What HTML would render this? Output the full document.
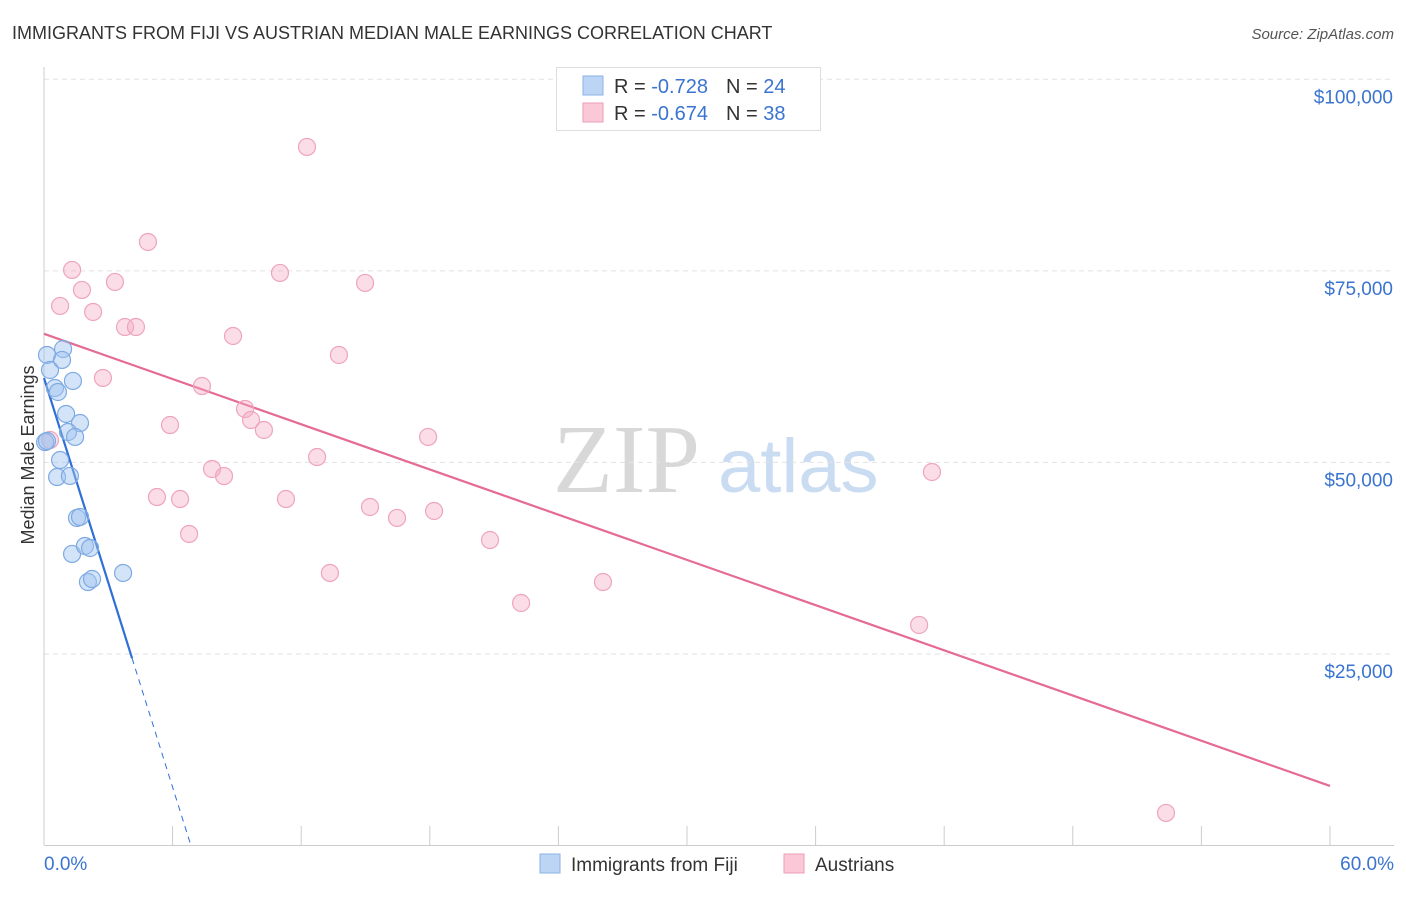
<!DOCTYPE html>
<html><head><meta charset="utf-8">
<style>
body{margin:0;background:#fff;font-family:"Liberation Sans",sans-serif;}
svg text{font-family:"Liberation Sans",sans-serif;}
</style></head>
<body>
<svg id="chart" width="1406" height="892" xmlns="http://www.w3.org/2000/svg">
<text x="12" y="39" font-size="18" fill="#333">IMMIGRANTS FROM FIJI VS AUSTRIAN MEDIAN MALE EARNINGS CORRELATION CHART</text>
<text x="1394" y="39" font-size="15" fill="#555" text-anchor="end" font-style="italic">Source: ZipAtlas.com</text>
<g>
<text x="553" y="492" font-size="98" fill="#d8d8d8" font-family="Liberation Serif" style="font-family:'Liberation Serif',serif">ZIP</text>
<text x="718" y="492" font-size="76" fill="#c9dcf2">atlas</text>
</g>
<g id="grid"></g>
<g id="axes"></g>
<g id="lines"></g>
<g id="points"></g>
<text transform="translate(34,455) rotate(-90)" font-size="18" fill="#333" text-anchor="middle">Median Male Earnings</text>
<g>
<rect x="556.5" y="67.5" width="264" height="63" fill="#fff" stroke="#ddd"/>
<rect x="583" y="76" width="20" height="19" fill="#bdd5f5" stroke="#8ab2e6"/>
<rect x="583" y="103" width="20" height="19" fill="#fac8d6" stroke="#ee9eb6"/>
<text x="614" y="93" font-size="20" fill="#333">R = <tspan fill="#3a74d0">-0.728</tspan><tspan dx="18">N = </tspan><tspan fill="#3a74d0">24</tspan></text>
<text x="614" y="120" font-size="20" fill="#333">R = <tspan fill="#3a74d0">-0.674</tspan><tspan dx="18">N = </tspan><tspan fill="#3a74d0">38</tspan></text>
</g>
<g>
<rect x="540" y="854" width="20" height="19" fill="#bdd5f5" stroke="#8ab2e6"/>
<text x="571" y="871" font-size="19" fill="#333">Immigrants from Fiji</text>
<rect x="784" y="854" width="20" height="19" fill="#fac8d6" stroke="#ee9eb6"/>
<text x="815" y="871" font-size="19" fill="#333">Austrians</text>
</g>
</svg>
<script>
const fijiX=[0.14,0.28,0.89,0.84,0.51,0.65,1.35,1.03,1.68,1.12,1.45,0.05,0.75,0.61,1.21,1.54,1.68,1.31,1.91,2.15,2.05,2.24,3.69,0.14];
const fijiY=[64020,62060,64800,63370,59710,59190,60630,56320,55140,53970,53320,52660,50310,48090,48230,42750,42880,38050,39090,38830,34390,34780,35570,52790];
const ausX=[12.27,4.85,1.31,11.01,3.31,14.98,1.77,0.75,2.29,3.78,4.29,8.82,13.76,2.75,7.37,9.38,9.66,10.26,5.88,17.92,0.28,12.74,7.84,8.40,41.43,5.27,6.35,11.29,15.21,18.20,16.47,6.77,20.81,13.34,26.08,22.26,40.83,52.35];
const ausY=[91170,78770,75120,74730,73550,73420,72510,70420,69630,67670,67670,66500,64020,61020,59970,56970,55530,54230,54880,53320,52920,50700,49140,48220,48750,45480,45220,45220,44180,43660,42750,40660,39870,35570,34390,31650,28780,4250];
const yTicks=[25000,50000,75000,100000];
const yTickLabels=["$25,000","$50,000","$75,000","$100,000"];
const xTickVals=[0,6,12,18,24,30,36,42,48,54,60];
const fijiTrend=[61010,-8900]; // intercept, slope per %
const ausTrend=[66780,-983.5];
const fijiSolidEnd=4.11;
const NS="http://www.w3.org/2000/svg";
const X=p=>44+p*21.433, Y=v=>845.5-v*0.007662;
function mk(parent,tag,attrs){const e=document.createElementNS(NS,tag);for(const k in attrs)e.setAttribute(k,attrs[k]);document.getElementById(parent).appendChild(e);return e;}
yTicks.forEach((v,i)=>{
 const g=mk('grid','line',{x1:44,x2:1394,y1:Y(v),y2:Y(v),stroke:'#e2e2e2','stroke-dasharray':'5,4'});
 
 
 const t=mk('axes','text',{x:1393,y:Y(v)+24,'font-size':19,fill:'#3a74d0','text-anchor':'end'});
 t.textContent=yTickLabels[i];
 
 
});
const ax=mk('axes','line',{x1:44,x2:44,y1:67,y2:845,stroke:'#ccc'});
const bx=mk('axes','line',{x1:44,x2:1394,y1:845.5,y2:845.5,stroke:'#ccc'});
xTickVals.forEach(p=>{const t=mk('axes','line',{x1:X(p),x2:X(p),y1:826,y2:845,stroke:'#ccc'});
 
 });
[[0,"0.0%","start",44],[60,"60.0%","end",1394]].forEach(a=>{const t=mk('axes','text',{x:a[3],y:870,'font-size':19,fill:'#3a74d0','text-anchor':a[2]});t.textContent=a[1];
 
 });
ausX.forEach((x,i)=>{const c=mk('points','circle',{cx:X(x),cy:Y(ausY[i]),r:8.5,fill:'rgba(245,170,195,0.4)',stroke:'#eea5bc','stroke-width':1.2});
 
 });
fijiX.forEach((x,i)=>{const c=mk('points','circle',{cx:X(x),cy:Y(fijiY[i]),r:8.5,fill:'rgba(160,196,240,0.45)',stroke:'#7eaae3','stroke-width':1.2});
 
 });
const fz=-fijiTrend[0]/fijiTrend[1];
let l=mk('lines','line',{x1:X(0),y1:Y(fijiTrend[0]),x2:X(fijiSolidEnd),y2:Y(fijiTrend[0]+fijiTrend[1]*fijiSolidEnd),stroke:'#2f6fd6','stroke-width':2.2});


l=mk('lines','line',{x1:X(fijiSolidEnd),y1:Y(fijiTrend[0]+fijiTrend[1]*fijiSolidEnd),x2:X(fz),y2:Y(0),stroke:'#2f6fd6','stroke-width':1,'stroke-dasharray':'6,5'});


l=mk('lines','line',{x1:X(0),y1:Y(ausTrend[0]),x2:X(60),y2:Y(ausTrend[0]+ausTrend[1]*60),stroke:'#e56b94','stroke-width':2.2});


</script>
</body></html>
